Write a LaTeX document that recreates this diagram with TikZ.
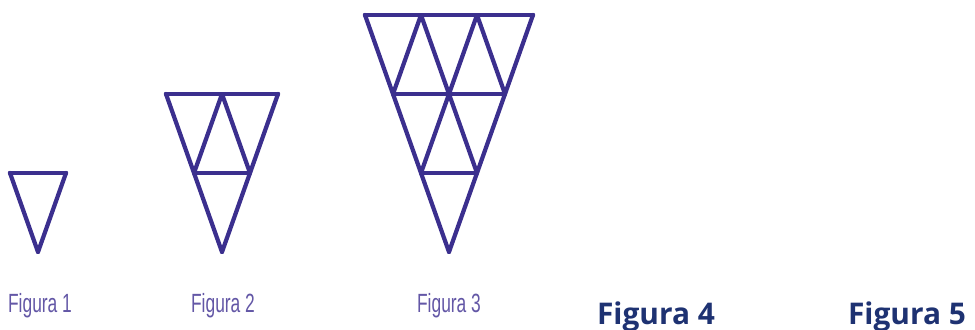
\documentclass[tikz,border=0pt]{standalone}
\usepackage{fontspec}
\newfontfamily\narrowsans[FakeStretch=0.66]{Liberation Sans}
\newfontfamily\capsans{Open Sans}
\definecolor{trigblue}{HTML}{3B2F8E}
\definecolor{capviolet}{HTML}{6357A6}
\definecolor{capnavy}{HTML}{1E3272}

\begin{document}
\begin{tikzpicture}[
    x=0.02cm, y=-0.02cm,
    tri/.style={draw=trigblue, line width=2.4pt, line cap=round, line join=round},
    capsmall/.style={font=\narrowsans\fontsize{15}{17}\selectfont, text=capviolet},
    capbig/.style={font=\capsans\bfseries\fontsize{17}{20}\selectfont, text=capnavy}
  ]
  \useasboundingbox (0,0) rectangle (975,330);

  % Triangle figures (rows / apex x)
  \foreach \n/\ax in {1/38, 2/222, 3/449} {
    \pgfmathsetmacro{\xo}{\ax-28*\n}
    \pgfmathsetmacro{\yo}{252-79*\n}
    \pgfmathtruncatemacro{\nn}{\n-1}
    \begin{scope}[shift={(\xo,\yo)}]
      % horizontal rows
      \foreach \k in {0,...,\nn}
        \draw[tri] ({\k*28},{\k*79}) -- ({\n*56-\k*28},{\k*79});
      % slanted lines
      \foreach \i in {0,...,\n} {
        \draw[tri] ({\i*56},0) -- ({\i*56+(\n-\i)*28},{(\n-\i)*79});
        \draw[tri] ({\i*56},0) -- ({\i*28},{\i*79});
      }
    \end{scope}
  }

  % Captions
  \node[capsmall] (fig1) at (40,306) {Figura 1};
  \node[capsmall] (fig2) at (223,306) {Figura 2};
  \node[capsmall] (fig3) at (449,306) {Figura 3};
  \node[capbig] (fig4) at (656,317) {Figura 4};
  \node[capbig] (fig5) at (907,317) {Figura 5};

\end{tikzpicture}
\end{document}
